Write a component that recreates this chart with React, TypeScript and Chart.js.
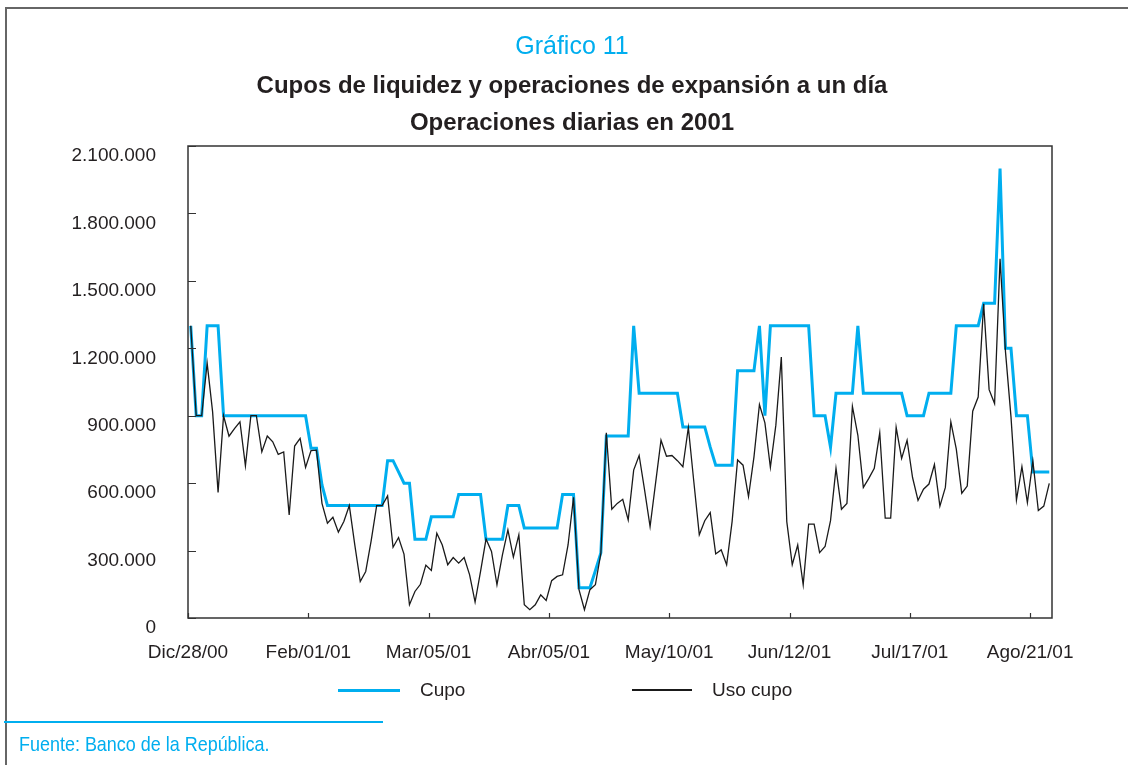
import React, { useEffect, useRef } from "react";
import { Chart, registerables } from "chart.js";

Chart.register(...registerables);

// ---------- DATA ----------
const xTickLabels = [
  "Dic/28/00",
  "Feb/01/01",
  "Mar/05/01",
  "Abr/05/01",
  "May/10/01",
  "Jun/12/01",
  "Jul/17/01",
  "Ago/21/01",
];
const xTickStep = 22; // daily observations between labelled ticks

const yMax = 2100000;
const yStep = 300000;

const seriesNames = ["Cupo", "Uso cupo"];

const cupo = [
  1300000, 900000, 900000, 1300000, 1300000, 1300000, 900000, 900000, 900000, 900000,
  900000, 900000, 900000, 900000, 900000, 900000, 900000, 900000, 900000, 900000,
  900000, 900000, 755000, 755000, 592000, 500000, 500000, 500000, 500000, 500000,
  500000, 500000, 500000, 500000, 500000, 500000, 700000, 700000, 650000, 600000,
  600000, 350000, 350000, 350000, 450000, 450000, 450000, 450000, 450000, 550000,
  550000, 550000, 550000, 550000, 350000, 350000, 350000, 350000, 500000, 500000,
  500000, 400000, 400000, 400000, 400000, 400000, 400000, 400000, 550000, 550000,
  550000, 135000, 135000, 135000, 210000, 290000, 810000, 810000, 810000, 810000,
  810000, 1300000, 1000000, 1000000, 1000000, 1000000, 1000000, 1000000, 1000000, 1000000,
  850000, 850000, 850000, 850000, 850000, 760000, 680000, 680000, 680000, 680000,
  1100000, 1100000, 1100000, 1100000, 1300000, 900000, 1300000, 1300000, 1300000, 1300000,
  1300000, 1300000, 1300000, 1300000, 900000, 900000, 900000, 760000, 1000000, 1000000,
  1000000, 1000000, 1300000, 1000000, 1000000, 1000000, 1000000, 1000000, 1000000, 1000000,
  1000000, 900000, 900000, 900000, 900000, 1000000, 1000000, 1000000, 1000000, 1000000,
  1300000, 1300000, 1300000, 1300000, 1300000, 1400000, 1400000, 1400000, 2000000, 1200000,
  1200000, 900000, 900000, 900000, 650000, 650000, 650000, 650000,
];

const usoCupo = [
  1300000, 900000, 900000, 1134000, 917000, 559000, 900000, 809000, 843000, 873000,
  677000, 900000, 900000, 739000, 810000, 784000, 728000, 739000, 458000, 765000,
  799000, 670000, 745000, 747000, 510000, 422000, 448000, 382000, 429000, 500000,
  325000, 162000, 207000, 344000, 500000, 500000, 543000, 315000, 358000, 284000,
  59000, 118000, 150000, 235000, 212000, 377000, 325000, 237000, 269000, 244000,
  269000, 192000, 71000, 207000, 351000, 296000, 148000, 281000, 392000, 271000,
  370000, 59000, 37000, 59000, 103000, 78000, 166000, 185000, 192000, 325000,
  537000, 126000, 37000, 126000, 148000, 288000, 824000, 484000, 510000, 528000,
  436000, 658000, 723000, 569000, 407000, 599000, 791000, 720000, 723000, 700000,
  673000, 848000, 606000, 370000, 433000, 469000, 285000, 303000, 237000, 429000,
  703000, 680000, 540000, 717000, 950000, 868000, 670000, 858000, 1161000, 429000,
  237000, 325000, 148000, 418000, 418000, 291000, 318000, 433000, 666000, 484000,
  510000, 942000, 813000, 581000, 621000, 666000, 824000, 444000, 444000, 848000,
  710000, 791000, 625000, 523000, 573000, 596000, 683000, 498000, 581000, 873000,
  751000, 555000, 587000, 920000, 983000, 1398000, 1016000, 954000, 1598000, 1183000,
  895000, 525000, 673000, 513000, 699000, 478000, 498000, 599000,
];

// ---------- STYLE ----------
const BLUE = "#00aeef";
const INK = "#231f20";
const LINE_BLACK = "#1a1a1a";
const FONT = "'Liberation Sans', Arial, Helvetica, sans-serif";

const seriesStyles = [
  { color: BLUE, width: 3 },
  { color: LINE_BLACK, width: 1.3 },
];

const fmtThousands = (v: number) =>
  String(Math.round(v)).replace(/\B(?=(\d{3})+(?!\d))/g, ".");

const frameTicks = {
  id: "frameTicks",
  afterDraw(chart: any) {
    const { ctx, chartArea: a, scales } = chart;
    ctx.save();
    ctx.strokeStyle = "#333333";
    ctx.lineWidth = 1.5;
    ctx.strokeRect(a.left, a.top, a.right - a.left, a.bottom - a.top);
    ctx.lineWidth = 1.2;
    ctx.beginPath();
    scales.y.ticks.forEach((t: any) => {
      const p = Math.round(scales.y.getPixelForValue(t.value)) + 0.5;
      ctx.moveTo(a.left, p);
      ctx.lineTo(a.left + 8, p);
    });
    scales.x.ticks.forEach((t: any) => {
      const p = Math.round(scales.x.getPixelForValue(t.value)) + 0.5;
      ctx.moveTo(p, a.bottom);
      ctx.lineTo(p, a.bottom - 5);
    });
    ctx.stroke();
    ctx.restore();
  },
};

export default function App() {
  const canvasRef = useRef<HTMLCanvasElement | null>(null);

  useEffect(() => {
    const canvas = canvasRef.current;
    if (!canvas) return;
    const seriesData = [cupo, usoCupo];
    const chart = new Chart(canvas, {
      type: "line",
      data: {
        datasets: seriesData.map((arr, s) => ({
          label: seriesNames[s],
          data: arr.map((v, i) => ({ x: i + 0.5, y: v })),
          borderColor: seriesStyles[s].color,
          backgroundColor: seriesStyles[s].color,
          borderWidth: seriesStyles[s].width,
          pointRadius: 0,
          tension: 0,
          borderJoinStyle: "miter" as const,
          fill: false,
          order: s === 0 ? 1 : 0,
        })),
      },
      options: {
        responsive: false,
        animation: false,
        events: [],
        layout: { padding: { left: 0, top: 146, right: 76, bottom: 97 } },
        plugins: {
          legend: { display: false },
          title: { display: false },
          tooltip: { enabled: false },
        },
        scales: {
          x: {
            type: "linear",
            min: 0,
            max: cupo.length,
            grid: { display: false, drawTicks: false },
            border: { display: false },
            afterBuildTicks: (s: any) => {
              s.ticks = xTickLabels.map((_, k) => ({ value: k * xTickStep }));
            },
            afterFit: (s: any) => {
              s.height = 50;
            },
            ticks: {
              autoSkip: false,
              maxRotation: 0,
              minRotation: 0,
              padding: 23,
              color: INK,
              font: { family: FONT, size: 19 },
              callback: (v: any) => xTickLabels[Math.round(Number(v) / xTickStep)] ?? "",
            },
          },
          y: {
            type: "linear",
            min: 0,
            max: yMax,
            grid: { display: false, drawTicks: false },
            border: { display: false },
            afterFit: (s: any) => {
              s.width = 188;
            },
            ticks: {
              stepSize: yStep,
              padding: 32,
              labelOffset: 10,
              color: INK,
              font: { family: FONT, size: 19 },
              callback: (v: any) => fmtThousands(Number(v)),
            },
          },
        },
      },
      plugins: [frameTicks],
    });
    return () => chart.destroy();
  }, []);

  const textBase: React.CSSProperties = {
    position: "absolute",
    left: 8,
    width: 1128,
    textAlign: "center",
    fontFamily: FONT,
    color: INK,
    whiteSpace: "nowrap",
  };

  const legendX = [
    { line: 338, lineW: 62, text: 420 },
    { line: 632, lineW: 60, text: 712 },
  ];

  return (
    <div
      style={{
        position: "absolute",
        left: 0,
        top: 0,
        width: 1128,
        height: 765,
        background: "#ffffff",
        overflow: "hidden",
      }}
    >
      <canvas
        ref={canvasRef}
        width={1128}
        height={765}
        style={{ position: "absolute", left: 0, top: 0, width: 1128, height: 765 }}
      />
      {/* frame */}
      <div style={{ position: "absolute", left: 5, top: 7, width: 1123, height: 2, background: "#666" }} />
      <div style={{ position: "absolute", left: 5, top: 7, width: 2, height: 758, background: "#666" }} />
      {/* titles */}
      <div style={{ ...textBase, top: 33, fontSize: 25, lineHeight: "25px", color: BLUE }}>Gráfico 11</div>
      <div style={{ ...textBase, top: 73, fontSize: 24, lineHeight: "24px", fontWeight: 700 }}>
        Cupos de liquidez y operaciones de expansión a un día
      </div>
      <div style={{ ...textBase, top: 110, fontSize: 24, lineHeight: "24px", fontWeight: 700 }}>
        Operaciones diarias en 2001
      </div>
      {/* legend */}
      {seriesNames.map((name, s) => (
        <React.Fragment key={name}>
          <div
            style={{
              position: "absolute",
              left: legendX[s].line,
              top: 690 - seriesStyles[s].width / 2,
              width: legendX[s].lineW,
              height: seriesStyles[s].width,
              background: seriesStyles[s].color,
            }}
          />
          <div
            style={{
              position: "absolute",
              left: legendX[s].text,
              top: 680,
              fontFamily: FONT,
              fontSize: 19,
              lineHeight: "19px",
              color: INK,
              whiteSpace: "nowrap",
            }}
          >
            {name}
          </div>
        </React.Fragment>
      ))}
      {/* source */}
      <div style={{ position: "absolute", left: 4, top: 721, width: 379, height: 1.5, background: BLUE }} />
      <div
        style={{
          position: "absolute",
          left: 19,
          top: 733,
          fontFamily: FONT,
          fontSize: 21,
          lineHeight: "21px",
          color: BLUE,
          whiteSpace: "nowrap",
          transform: "scaleX(0.855)",
          transformOrigin: "left center",
        }}
      >
        Fuente: Banco de la República.
      </div>
    </div>
  );
}
